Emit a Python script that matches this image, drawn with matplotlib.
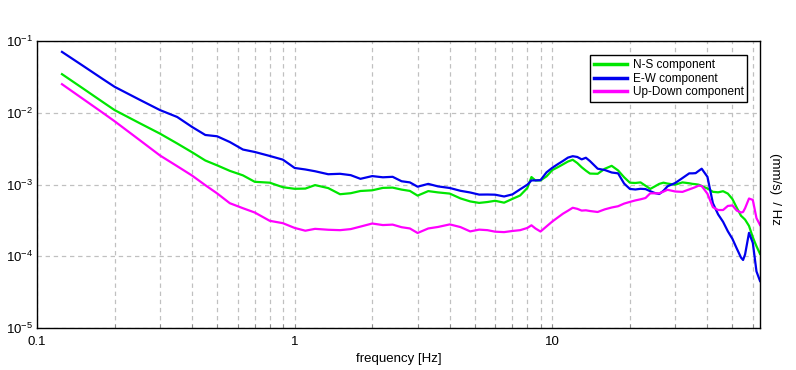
import math
import matplotlib
matplotlib.use("Agg")
import matplotlib.pyplot as plt
import matplotlib.ticker as mticker

plt.rcParams['font.family'] = ['Liberation Sans', 'DejaVu Sans']
plt.rcParams['mathtext.default'] = 'regular'

freq = [0.125, 0.15, 0.18, 0.2, 0.25, 0.3, 0.35, 0.4, 0.45, 0.5,
        0.56, 0.63, 0.7, 0.8, 0.9, 1.0, 1.1, 1.2, 1.35, 1.5,
        1.65, 1.8, 2.0, 2.2, 2.4, 2.6, 2.8, 3.0, 3.3, 3.6,
        4.0, 4.4, 4.8, 5.2, 5.6, 6.0, 6.5, 7.0, 7.5, 8.0,
        8.3, 8.6, 9.0, 9.5, 10, 10.5, 11, 11.5, 12, 12.5,
        13, 13.5, 14, 15, 16, 17, 18, 19, 20, 21,
        22, 23, 24, 25, 26, 27, 28, 30, 32, 34,
        35, 36, 37, 38, 40, 42, 44, 46, 48, 50,
        52, 54, 55, 56, 58, 60, 62, 64]

ns = [3.45e-2, 2.21e-2, 1.41e-2, 1.09e-2, 7.17e-3, 5.12e-3, 3.73e-3, 2.81e-3, 2.16e-3, 1.85e-3,
      1.55e-3, 1.34e-3, 1.09e-3, 1.06e-3, 9.17e-4, 8.71e-4, 8.77e-4, 9.81e-4, 8.91e-4, 7.32e-4,
      7.56e-4, 8.12e-4, 8.30e-4, 8.97e-4, 9.05e-4, 8.49e-4, 8.14e-4, 7.00e-4, 8.09e-4, 7.76e-4,
      7.47e-4, 6.40e-4, 5.81e-4, 5.54e-4, 5.70e-4, 5.93e-4, 5.58e-4, 6.30e-4, 7.03e-4, 8.94e-4,
      1.27e-3, 1.14e-3, 1.14e-3, 1.30e-3, 1.59e-3, 1.74e-3, 1.91e-3, 2.09e-3, 2.21e-3, 1.99e-3,
      1.74e-3, 1.56e-3, 1.42e-3, 1.41e-3, 1.66e-3, 1.82e-3, 1.57e-3, 1.26e-3, 1.06e-3, 1.05e-3,
      1.07e-3, 9.62e-4, 8.68e-4, 9.41e-4, 1.02e-3, 1.06e-3, 1.03e-3, 9.94e-4, 1.07e-3, 1.04e-3,
      1.02e-3, 1.01e-3, 9.94e-4, 9.53e-4, 8.80e-4, 7.91e-4, 7.78e-4, 8.06e-4, 7.47e-4, 6.28e-4,
      4.74e-4, 3.67e-4, 3.45e-4, 3.24e-4, 2.65e-4, 1.84e-4, 1.38e-4, 1.08e-4]

ew = [7.05e-2, 4.57e-2, 2.95e-2, 2.30e-2, 1.52e-2, 1.09e-2, 8.73e-3, 6.33e-3, 4.90e-3, 4.70e-3,
      3.91e-3, 3.07e-3, 2.84e-3, 2.50e-3, 2.22e-3, 1.70e-3, 1.62e-3, 1.53e-3, 1.39e-3, 1.41e-3,
      1.35e-3, 1.20e-3, 1.31e-3, 1.26e-3, 1.28e-3, 1.11e-3, 1.07e-3, 9.32e-4, 1.02e-3, 9.41e-4,
      8.94e-4, 8.17e-4, 7.74e-4, 7.23e-4, 7.25e-4, 7.21e-4, 6.81e-4, 7.28e-4, 8.57e-4, 9.94e-4,
      1.14e-3, 1.14e-3, 1.15e-3, 1.48e-3, 1.71e-3, 1.92e-3, 2.13e-3, 2.37e-3, 2.48e-3, 2.42e-3,
      2.24e-3, 2.36e-3, 2.12e-3, 1.66e-3, 1.59e-3, 1.47e-3, 1.43e-3, 1.03e-3, 8.68e-4, 8.52e-4,
      8.71e-4, 8.63e-4, 8.06e-4, 7.61e-4, 7.37e-4, 8.17e-4, 9.44e-4, 1.05e-3, 1.23e-3, 1.43e-3,
      1.43e-3, 1.44e-3, 1.55e-3, 1.66e-3, 1.28e-3, 5.49e-4, 3.84e-4, 3.02e-4, 2.23e-4, 1.75e-4,
      1.28e-4, 9.58e-5, 8.87e-5, 1.06e-4, 2.12e-4, 1.54e-4, 6.15e-5, 4.52e-5]

ud = [2.50e-2, 1.58e-2, 9.98e-3, 7.62e-3, 4.17e-3, 2.54e-3, 1.80e-3, 1.33e-3, 9.78e-4, 7.52e-4,
      5.49e-4, 4.67e-4, 4.07e-4, 3.12e-4, 2.89e-4, 2.48e-4, 2.27e-4, 2.41e-4, 2.34e-4, 2.31e-4,
      2.39e-4, 2.59e-4, 2.86e-4, 2.72e-4, 2.76e-4, 2.54e-4, 2.44e-4, 2.11e-4, 2.44e-4, 2.56e-4,
      2.78e-4, 2.55e-4, 2.22e-4, 2.35e-4, 2.31e-4, 2.20e-4, 2.17e-4, 2.25e-4, 2.31e-4, 2.48e-4,
      2.70e-4, 2.44e-4, 2.21e-4, 2.61e-4, 3.05e-4, 3.47e-4, 3.92e-4, 4.31e-4, 4.74e-4, 4.58e-4,
      4.33e-4, 4.37e-4, 4.27e-4, 4.14e-4, 4.51e-4, 4.78e-4, 4.98e-4, 5.42e-4, 5.72e-4, 6.00e-4,
      6.22e-4, 6.48e-4, 7.54e-4, 7.54e-4, 7.54e-4, 7.96e-4, 8.44e-4, 7.99e-4, 7.89e-4, 8.55e-4,
      8.88e-4, 9.23e-4, 9.65e-4, 9.53e-4, 7.44e-4, 4.83e-4, 4.41e-4, 4.41e-4, 5.03e-4, 5.11e-4,
      4.33e-4, 4.07e-4, 4.14e-4, 4.67e-4, 6.38e-4, 6.10e-4, 3.40e-4, 2.73e-4]

labels = ["N-S component", "E-W component", "Up-Down component"]
colors = ["#00e600", "#0000ee", "#ff00ff"]

fig = plt.figure(figsize=(7.96, 3.70), dpi=100)
ax = fig.add_axes([0.0465, 0.1135, 0.9083, 0.7757])

for vals, lab, col in zip([ns, ew, ud], labels, colors):
    ax.plot(freq, vals, color=col, lw=1.6, label=lab)

ax.set_xscale("log")
ax.set_yscale("log")
ax.set_xlim(0.1, 64)
ax.set_ylim(1e-5, 1e-1)

ax.xaxis.set_major_locator(mticker.FixedLocator([0.1, 1, 10]))
ax.xaxis.set_major_formatter(mticker.FixedFormatter(["0.1", "1", "10"]))
ax.xaxis.set_minor_locator(mticker.LogLocator(base=10, subs=range(2, 10), numticks=20))
ax.xaxis.set_minor_formatter(mticker.NullFormatter())
ax.yaxis.set_major_locator(mticker.FixedLocator([1e-5, 1e-4, 1e-3, 1e-2, 1e-1]))
ax.yaxis.set_major_formatter(mticker.FuncFormatter(lambda v, p: "10$^{-%d}$" % round(-math.log10(v))))
ax.yaxis.set_minor_locator(mticker.NullLocator())

ax.grid(True, which="both", axis="x", color="#c0c0c0", ls=(0, (3.5, 3)), lw=0.9)
ax.grid(True, which="major", axis="y", color="#c0c0c0", ls=(0, (3.5, 3)), lw=0.9)

ax.tick_params(axis="x", which="both", direction="in", length=3, width=0.6, color="#808080",
               labelsize=9.5, pad=6)
ax.tick_params(axis="y", which="both", length=0, labelsize=9.5, pad=3)
for s in ax.spines.values():
    s.set_linewidth(1.0)
    s.set_color("black")

ax.set_xlabel("frequency [Hz]", fontsize=9.5, labelpad=3)
fig.text(0.974, 0.49, "(mm/s)  / Hz", rotation=270, fontsize=9.5, ha="center", va="center")

leg = ax.legend(loc="upper right", bbox_to_anchor=(0.982, 0.95), fontsize=8.5, frameon=True,
                fancybox=False, framealpha=1, edgecolor="black", handlelength=2.8,
                borderpad=0.3, labelspacing=0.15, handletextpad=0.5, borderaxespad=0)
leg.get_frame().set_linewidth(1.0)
for line in leg.get_lines():
    line.set_linewidth(2.5)

fig.savefig("out.png", dpi=100)
